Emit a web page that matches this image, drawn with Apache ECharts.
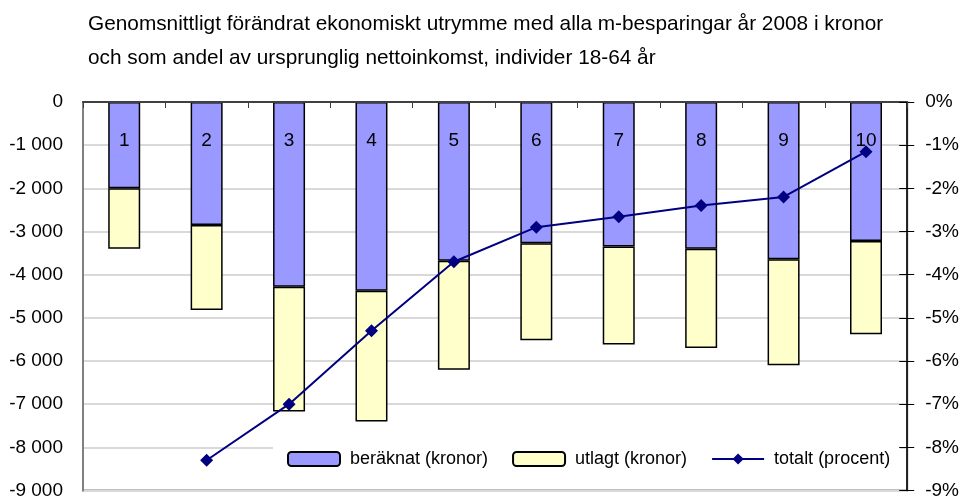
<!DOCTYPE html>
<html>
<head>
<meta charset="utf-8">
<script src="https://cdn.jsdelivr.net/npm/echarts@6/dist/echarts.min.js"></script>
<style>html,body{margin:0;padding:0;background:#fff}#c{width:962px;height:500px}</style>
</head>
<body>
<div id="c"></div>
<script>
var categories = ['1','2','3','4','5','6','7','8','9','10'];
var beraknat = [-2000, -2850, -4280, -4370, -3680, -3270, -3350, -3400, -3640, -3220];
var utlagt = [-1400, -1970, -2890, -3030, -2520, -2250, -2270, -2300, -2460, -2160];
var totaltProcent = [null, -8.3, -7.0, -5.3, -3.7, -2.9, -2.66, -2.4, -2.2, -1.15];
var titleLines = ['Genomsnittligt förändrat ekonomiskt utrymme med alla m-besparingar år 2008 i kronor',
                  'och som andel av ursprunglig nettoinkomst, individer 18-64 år'];
var seriesNames = ['beräknat (kronor)', 'utlagt (kronor)', 'totalt (procent)'];

var FONT = 'Liberation Sans, Arial, sans-serif';
function kr(v) {
  var s = Math.abs(v).toString().replace(/\B(?=(\d{3})+(?!\d))/g, ' ');
  return (v < 0 ? '-' : '') + s;
}
var chart = echarts.init(document.getElementById('c'), null, {renderer: 'canvas'});
chart.setOption({
  animation: false,
  backgroundColor: '#fff',
  title: {
    text: titleLines.join('\n'),
    left: 83, top: 2,
    textStyle: {fontFamily: FONT, fontSize: 20.8, fontWeight: 'normal', color: '#000', lineHeight: 34}
  },
  grid: {left: 83, right: 54, top: 102, bottom: 7, show: true, borderColor: '#808080', borderWidth: 2, backgroundColor: 'transparent'},
  legend: {
    left: 273, top: 442,
    data: seriesNames,
    itemWidth: 52, itemHeight: 14, itemGap: 24,
    backgroundColor: '#fff',
    padding: [8, 10, 10, 14],
    textStyle: {fontFamily: FONT, fontSize: 18, color: '#000', padding: [0, 0, 0, 5]}
  },
  xAxis: {
    type: 'category', data: categories, position: 'top',
    axisLine: {lineStyle: {color: '#404040', width: 2}},
    axisTick: {show: true, inside: true, length: 6, alignWithLabel: false, lineStyle: {color: '#404040', width: 1}},
    axisLabel: {inside: true, margin: 29, fontFamily: FONT, fontSize: 19, color: '#000'},
    splitLine: {show: false},
    z: 10
  },
  yAxis: [
    {
      type: 'value', min: -9000, max: 0, interval: 1000, position: 'left',
      axisLine: {show: true, lineStyle: {color: '#808080', width: 2}},
      axisTick: {show: false},
      axisLabel: {fontFamily: FONT, fontSize: 19, color: '#000', margin: 20, formatter: kr},
      splitLine: {show: true, lineStyle: {color: '#d9d9d9', width: 2}}
    },
    {
      type: 'value', min: -9, max: 0, interval: 1, position: 'right',
      axisLine: {show: true, lineStyle: {color: '#000', width: 1.5}},
      axisTick: {show: true, length: 7, lineStyle: {color: '#000'}},
      axisLabel: {fontFamily: FONT, fontSize: 19, color: '#000', margin: 18, formatter: '{value}%'},
      splitLine: {show: false},
      z: 10
    },
    {
      type: 'value', min: -9, max: 0, interval: 1, position: 'right',
      axisLine: {show: false},
      axisTick: {show: true, inside: true, length: 8, lineStyle: {color: '#000'}},
      axisLabel: {show: false},
      splitLine: {show: false},
      z: 10
    }
  ],
  series: [
    {
      name: seriesNames[0], type: 'bar', stack: 'kr', data: beraknat, barWidth: 32,
      itemStyle: {color: '#9999ff', borderColor: '#000', borderWidth: 1.5}
    },
    {
      name: seriesNames[1], type: 'bar', stack: 'kr', data: utlagt, barWidth: 32,
      itemStyle: {color: '#ffffcc', borderColor: '#000', borderWidth: 1.5}
    },
    {
      name: seriesNames[2], type: 'line', yAxisIndex: 1, data: totaltProcent,
      symbol: 'diamond', symbolSize: 13, showAllSymbol: true,
      lineStyle: {color: '#000080', width: 2},
      itemStyle: {color: '#000080'},
      z: 5
    }
  ]
});
</script>
</body>
</html>
